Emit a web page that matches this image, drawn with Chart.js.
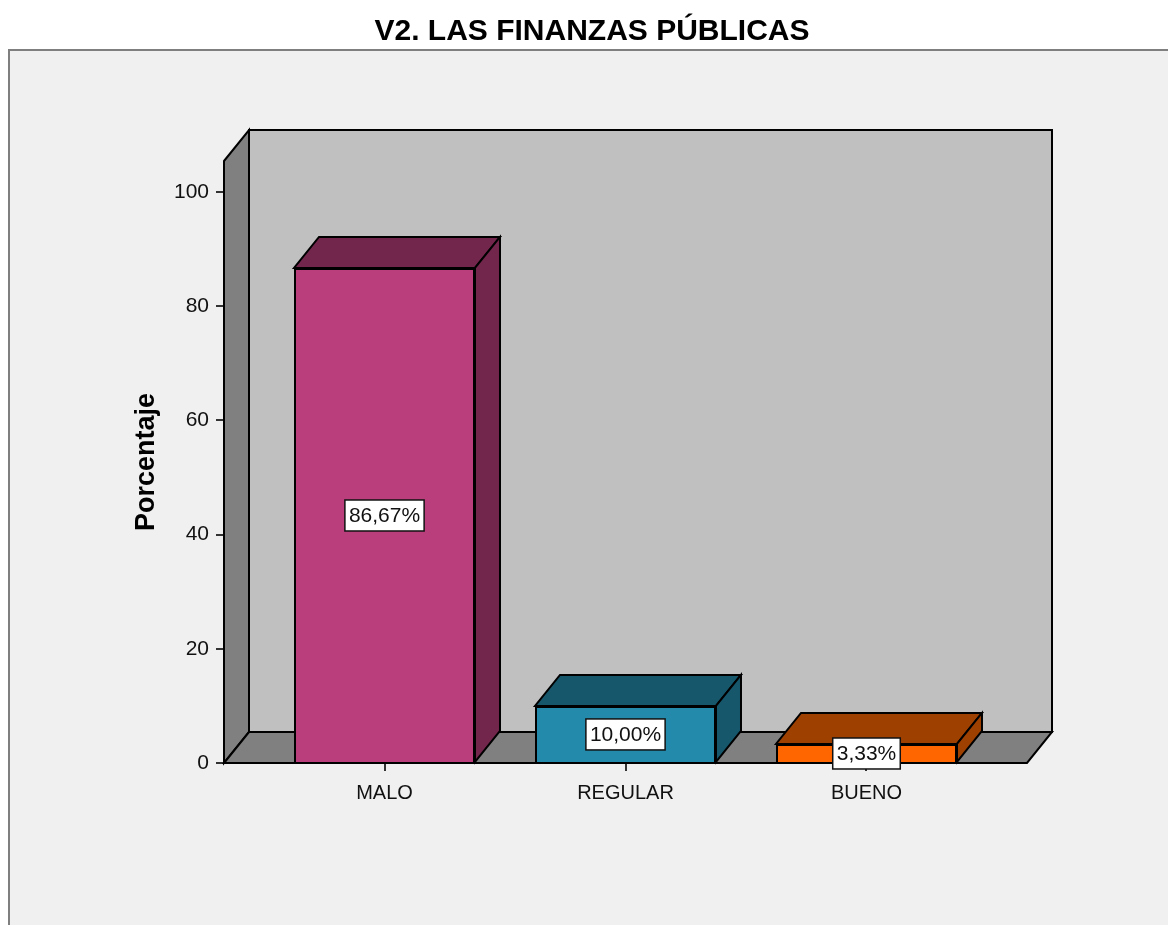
<!DOCTYPE html>
<html>
<head>
<meta charset="utf-8">
<title>V2. LAS FINANZAS PÚBLICAS</title>
<script src="https://cdn.jsdelivr.net/npm/chart.js@4/dist/chart.umd.min.js"></script>
<style>
  html, body { margin: 0; padding: 0; background: #fff; }
  #wrap { width: 1168px; height: 925px; }
</style>
</head>
<body>
<div id="wrap"><canvas id="chart" width="1168" height="925"></canvas></div>
<script>
// data
const categories = ['MALO', 'REGULAR', 'BUENO'];
const percentages = [86.67, 10.00, 3.33];
const yTicks = [0, 20, 40, 60, 80, 100];

// colours: front face, and the darker top/side face
const frontColors = ['#b93e7b', '#238aab', '#ff6600'];
const shadeColors = ['#72264c', '#17576c', '#9e4000'];

const FONT = "'Liberation Sans', Arial, sans-serif";
const DX = 25, DY = 31; // 3d depth

function poly(ctx, pts, fill) {
  ctx.beginPath();
  ctx.moveTo(pts[0][0], pts[0][1]);
  for (let i = 1; i < pts.length; i++) ctx.lineTo(pts[i][0], pts[i][1]);
  ctx.closePath();
  ctx.fillStyle = fill;
  ctx.fill();
  ctx.stroke();
}

// grey panel behind the chart
const panelPlugin = {
  id: 'panel',
  beforeDraw(chart) {
    const ctx = chart.ctx;
    ctx.save();
    ctx.fillStyle = '#f0f0f0';
    ctx.fillRect(9, 50, chart.width - 9, chart.height - 50);
    ctx.strokeStyle = '#7f7f7f';
    ctx.lineWidth = 2;
    ctx.beginPath();
    ctx.moveTo(9, chart.height);
    ctx.lineTo(9, 50);
    ctx.lineTo(chart.width, 50);
    ctx.stroke();
    ctx.restore();
  }
};

// walls, floor, bar tops/sides and value boxes
const box3dPlugin = {
  id: 'box3d',
  beforeDatasetsDraw(chart) {
    const {ctx, chartArea: a} = chart;
    ctx.save();
    ctx.strokeStyle = '#000';
    ctx.lineWidth = 2;
    // back wall
    poly(ctx, [[a.left + DX, a.top - DY], [a.right + DX, a.top - DY],
               [a.right + DX, a.bottom - DY], [a.left + DX, a.bottom - DY]], '#c0c0c0');
    // left wall
    poly(ctx, [[a.left, a.top], [a.left + DX, a.top - DY],
               [a.left + DX, a.bottom - DY], [a.left, a.bottom]], '#808080');
    // floor
    poly(ctx, [[a.left, a.bottom], [a.right, a.bottom],
               [a.right + DX, a.bottom - DY], [a.left + DX, a.bottom - DY]], '#808080');
    ctx.restore();
  },
  afterDatasetsDraw(chart) {
    const ctx = chart.ctx;
    const meta = chart.getDatasetMeta(0);
    ctx.save();
    ctx.strokeStyle = '#000';
    ctx.lineWidth = 2;
    meta.data.forEach((bar, i) => {
      const {x, y, base, width} = bar.getProps(['x', 'y', 'base', 'width'], true);
      const l = x - width / 2, r = x + width / 2;
      poly(ctx, [[l, y], [r, y], [r + DX, y - DY], [l + DX, y - DY]], shadeColors[i]);
      poly(ctx, [[r, y], [r + DX, y - DY], [r + DX, base - DY], [r, base]], shadeColors[i]);
    });
    ctx.restore();
  },
  afterDraw(chart) {
    const ctx = chart.ctx;
    const meta = chart.getDatasetMeta(0);
    const yScale = chart.scales.y;
    ctx.save();
    ctx.font = '21px ' + FONT;
    ctx.textAlign = 'center';
    ctx.textBaseline = 'middle';
    meta.data.forEach((bar, i) => {
      const v = percentages[i];
      const txt = v.toFixed(2).replace('.', ',') + '%';
      const cy = yScale.getPixelForValue(v / 2);
      const w = ctx.measureText(txt).width + 8;
      const h = 31;
      ctx.fillStyle = '#fff';
      ctx.fillRect(bar.x - w / 2, cy - h / 2, w, h);
      ctx.strokeStyle = '#111';
      ctx.lineWidth = 1.5;
      ctx.strokeRect(bar.x - w / 2, cy - h / 2, w, h);
      ctx.fillStyle = '#111';
      ctx.fillText(txt, bar.x, cy + 1);
    });
    ctx.restore();
  }
};

new Chart(document.getElementById('chart'), {
  type: 'bar',
  data: {
    datasets: [{
      label: 'Porcentaje',
      data: percentages.map((v, i) => ({x: i, y: v})),
      backgroundColor: frontColors,
      borderColor: '#000',
      borderWidth: 2,
      barPercentage: 0.751,
      categoryPercentage: 1
    }]
  },
  options: {
    responsive: false,
    animation: false,
    layout: { padding: { left: 16, right: 0, top: 0, bottom: 0 } },
    plugins: {
      legend: { display: false },
      tooltip: { enabled: false },
      title: {
        display: true,
        text: 'V2. LAS FINANZAS PÚBLICAS',
        color: '#000',
        font: { family: FONT, size: 30, weight: 'bold' },
        padding: { top: 14, bottom: 111 }
      }
    },
    scales: {
      x: {
        type: 'linear',
        offset: false,
        min: -0.666,
        max: 2.666,
        afterBuildTicks: s => { s.ticks = categories.map((c, i) => ({value: i})); },
        afterFit: s => { s.height = 162; },
        ticks: {
          callback: v => categories[v] ?? '',
          color: '#111',
          font: { family: FONT, size: 20 },
          padding: 10,
          maxRotation: 0,
          autoSkip: false
        },
        grid: { offset: false, drawOnChartArea: false, tickLength: 8, color: '#333', lineWidth: 2 },
        border: { display: false }
      },
      y: {
        type: 'linear',
        min: 0,
        max: 105.4,
        afterBuildTicks: s => { s.ticks = yTicks.map(v => ({value: v})); },
        afterFit: s => { s.width = 208; },
        ticks: {
          color: '#111',
          font: { family: FONT, size: 21 },
          padding: 7
        },
        grid: { drawOnChartArea: false, tickLength: 8, color: '#333', lineWidth: 2 },
        border: { display: false },
        title: {
          display: true,
          text: 'Porcentaje',
          color: '#000',
          font: { family: FONT, size: 27, weight: 'bold' },
          padding: { top: 114, bottom: 0 }
        }
      },
      // empty axis that only reserves room for the 3d depth on the right
      yRight: {
        type: 'linear',
        position: 'right',
        afterFit: s => { s.width = 141; },
        ticks: { display: false },
        grid: { display: false },
        border: { display: false }
      }
    }
  },
  plugins: [panelPlugin, box3dPlugin]
});
</script>
</body>
</html>
